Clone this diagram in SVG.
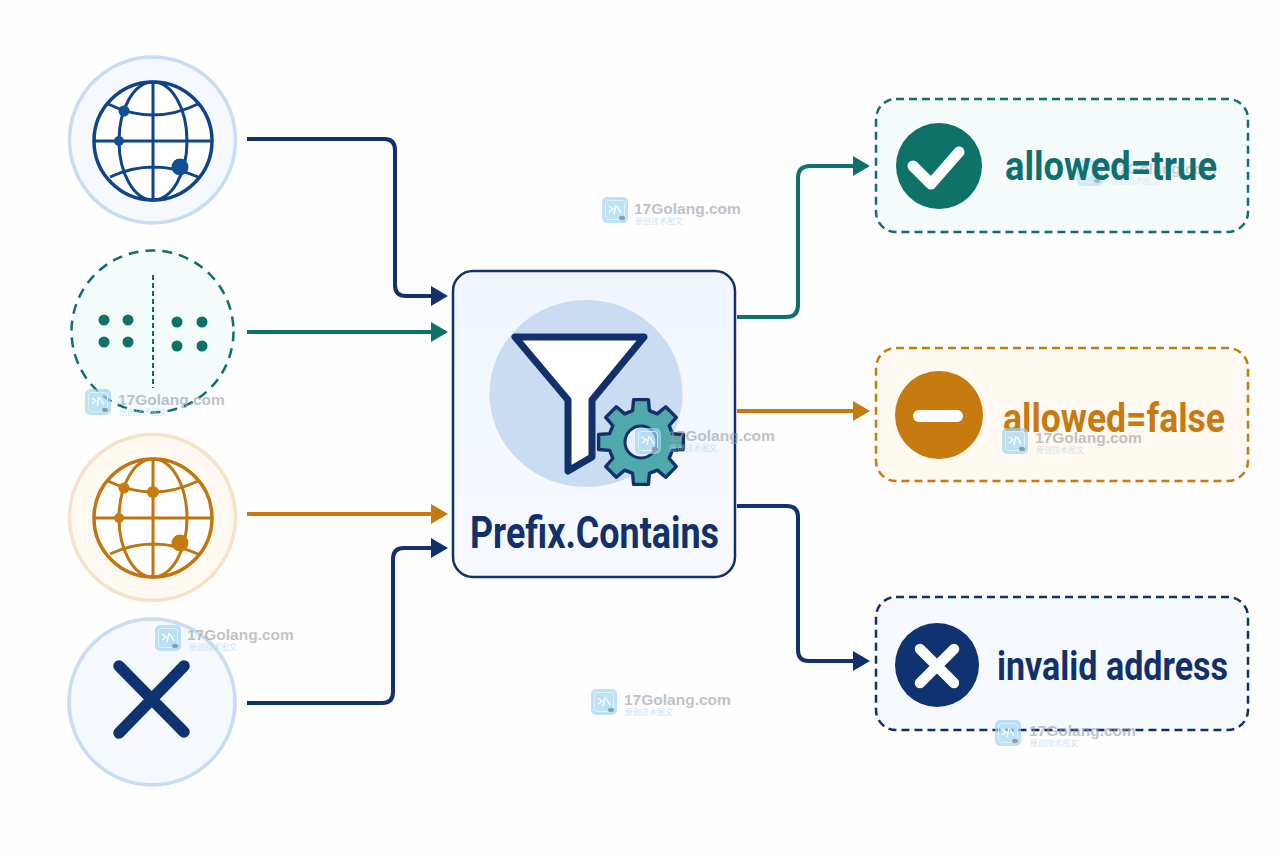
<svg xmlns="http://www.w3.org/2000/svg" width="1280" height="853" viewBox="0 0 1280 853">
<style>
.lbl{font-family:"Roboto","Liberation Sans",sans-serif;font-weight:700}
.wm{font-family:"Liberation Sans","Noto Sans",sans-serif;font-weight:700;font-size:15.5px;fill:#9a9fa6;opacity:.62}
.wms{font-family:"Noto Sans CJK SC","Liberation Sans",sans-serif;font-size:8px;fill:#bcd7ee;opacity:.7}
.conn{fill:none;stroke-width:4;stroke-linejoin:round}
.dash{stroke-width:2.5;stroke-dasharray:8 5}
.navy{stroke:#12306b}.teal{stroke:#0f7268}.org{stroke:#c77a10}
</style>
<defs>
<marker id="aN" markerUnits="userSpaceOnUse" markerWidth="18" markerHeight="22" refX="14" refY="11" orient="auto"><path d="M0 1L17 11L0 21Z" fill="#12306b"/></marker>
<marker id="aT" markerUnits="userSpaceOnUse" markerWidth="18" markerHeight="22" refX="14" refY="11" orient="auto"><path d="M0 1L17 11L0 21Z" fill="#0f7268"/></marker>
<marker id="aO" markerUnits="userSpaceOnUse" markerWidth="18" markerHeight="22" refX="14" refY="11" orient="auto"><path d="M0 1L17 11L0 21Z" fill="#c77a10"/></marker>
<linearGradient id="boxg" x1="0" y1="0" x2="0" y2="1"><stop offset="0" stop-color="#f1f6fe"/><stop offset="1" stop-color="#f6f9fe"/></linearGradient>
<g id="globe" fill="none" stroke="currentColor" stroke-width="3">
<circle r="59" fill="#fff" stroke-width="3.5"/>
<ellipse rx="34" ry="59"/>
<path d="M0-59V59M-59 0H59M-45-37Q0-15 45-37M-43 36Q0 16 45 36"/>
</g>
<g id="wmi">
<rect width="26" height="26" rx="5" fill="#9fd5ef" opacity=".7"/>
<rect x="3.500" y="3.500" width="19" height="19" rx="3" fill="none" stroke="#e6f5fb" stroke-width="1" opacity=".8"/>
<path d="M7 9L11 12L7 15M14 8L12 17M15 9L19 16" fill="none" stroke="#fff" stroke-width="1.300"/>
<rect x="17" y="19" width="6" height="4" rx="2" fill="#8f9aa3"/>
</g>
</defs>
<rect width="1280" height="853" fill="#fefefe"/>

<g id="connectors">
<path class="conn navy" marker-end="url(#aN)" d="M247 139H384Q395 139 395 150V285Q395 296 406 296H445"/>
<path class="conn teal" marker-end="url(#aT)" d="M247 332H445"/>
<path class="conn org" marker-end="url(#aO)" d="M247 514H445"/>
<path class="conn navy" marker-end="url(#aN)" d="M247 703H382Q393 703 393 692V559Q393 548 404 548H445"/>
<path class="conn teal" marker-end="url(#aT)" d="M737 317H786Q798 317 798 305V178Q798 166 810 166H867"/>
<path class="conn org" marker-end="url(#aO)" d="M737 411H867"/>
<path class="conn navy" marker-end="url(#aN)" d="M737 506H787Q798 506 798 517V650Q798 661 809 661H867"/>
</g>

<g id="node-ip-1">
<circle cx="152.500" cy="140" r="83" fill="#f5f9fe" stroke="#c9dcf2" stroke-width="3.500"/>
<use href="#globe" x="153" y="141" color="#0f4488"/>
<circle cx="124" cy="111" r="5.500" fill="#0f4f96"/>
<circle cx="119" cy="141" r="5" fill="#0f4f96"/>
<circle cx="180" cy="167" r="8.500" fill="#0f4f96"/>
</g>

<g id="node-cidr">
<circle cx="152.500" cy="331.500" r="81" fill="#f4fbfb" stroke="#0f6e6e" stroke-width="2.500" stroke-dasharray="10 7"/>
<path d="M153 275V388" stroke="#0f6e6e" stroke-width="2" stroke-dasharray="5 3" fill="none"/>
<g fill="#0f7268">
<circle cx="104" cy="320" r="5.500"/><circle cx="128" cy="320" r="5.500"/>
<circle cx="104" cy="342" r="5.500"/><circle cx="128" cy="342" r="5.500"/>
<circle cx="177" cy="322" r="5.500"/><circle cx="202" cy="322" r="5.500"/>
<circle cx="177" cy="346" r="5.500"/><circle cx="202" cy="346" r="5.500"/>
</g>
</g>

<g id="node-ip-2">
<circle cx="152.500" cy="517.500" r="83" fill="#fff9f1" stroke="#f6e2c8" stroke-width="3.500"/>
<use href="#globe" x="153" y="518" color="#c0760f"/>
<g fill="#c77a10">
<circle cx="124" cy="488" r="5.500"/><circle cx="153" cy="492" r="6"/>
<circle cx="119" cy="518" r="5"/><circle cx="180" cy="543" r="8.500"/>
</g>
</g>

<g id="node-invalid">
<circle cx="152" cy="702" r="83" fill="#f5f9fe" stroke="#c9dcf2" stroke-width="3.500"/>
<path d="M119 666L184 732M184 666L119 733" stroke="#0f3270" stroke-width="11.500" stroke-linecap="round" fill="none"/>
</g>

<g id="node-filter">
<rect x="453" y="271" width="282" height="306" rx="20" fill="url(#boxg)" stroke="#12306b" stroke-width="2.500"/>
<ellipse cx="586" cy="393.500" rx="96.500" ry="93.500" fill="#c9dcf2"/>
<path d="M515 337H644L592 400V457L568 471V400Z" fill="#fff" stroke="#12306b" stroke-width="7" stroke-linejoin="round"/>
<path transform="translate(641 442) scale(1.050)" fill="#4fa8aa" stroke="#12306b" stroke-width="3.200" stroke-linejoin="round" d="M-8-29.900L-7.100-40.400H7.100L8-29.900L15.500-26.800L23.500-33.600L33.600-23.500L26.800-15.500L29.900-8L40.400-7.100V7.100L29.900 8L26.800 15.500L33.600 23.500L23.500 33.600L15.500 26.800L8 29.900L7.100 40.400H-7.100L-8 29.900L-15.500 26.800L-23.500 33.600L-33.600 23.500L-26.800 15.500L-29.900 8L-40.400 7.100V-7.100L-29.900-8L-26.800-15.500L-33.600-23.500L-23.500-33.600L-15.500-26.800Z"/>
<circle cx="641" cy="442" r="16" fill="#e6f1fa" stroke="#12306b" stroke-width="3"/>
<text class="lbl" x="470" y="548" font-size="44" fill="#12306b" textLength="249" lengthAdjust="spacingAndGlyphs">Prefix.Contains</text>
</g>

<g id="node-allowed">
<rect x="876" y="99" width="372" height="133" rx="20" fill="#f5fbfb" stroke="#0f6e6e" class="dash"/>
<circle cx="939" cy="166" r="43" fill="#0f7268"/>
<path d="M913 166L931 184L959 152" fill="none" stroke="#fff" stroke-width="11" stroke-linecap="round" stroke-linejoin="round"/>
<g id="watermark-allowed" opacity=".7">
<use href="#wmi" x="1077" y="160"/><text class="wm" x="1110" y="174">17Golang.com</text><text class="wms" x="1111" y="184">原创技术图文</text>
</g>
<text class="lbl" x="1005" y="180" font-size="40" fill="#0f6e6e" textLength="212" lengthAdjust="spacingAndGlyphs">allowed=true</text>
</g>

<g id="node-denied">
<rect x="876" y="348" width="372" height="133" rx="20" fill="#fff9f1" stroke="#c77a10" class="dash"/>
<circle cx="939" cy="415" r="44" fill="#c77a10"/>
<rect x="913" y="410" width="50" height="12" rx="6" fill="#fff"/>
<text class="lbl" x="1003" y="432" font-size="40" fill="#c77a10" textLength="222" lengthAdjust="spacingAndGlyphs">allowed=false</text>
</g>

<g id="node-error">
<rect x="876" y="597" width="372" height="133" rx="20" fill="#f6f9fe" stroke="#12306b" class="dash"/>
<circle cx="937" cy="665" r="42" fill="#0f3270"/>
<path d="M920 649L954 683M954 649L920 683" fill="none" stroke="#fff" stroke-width="10.500" stroke-linecap="round"/>
<text class="lbl" x="997" y="680" font-size="40" fill="#12306b" textLength="231" lengthAdjust="spacingAndGlyphs">invalid address</text>
</g>

<g id="watermarks">
<use href="#wmi" x="602" y="197"/><text class="wm" x="634" y="214">17Golang.com</text><text class="wms" x="635" y="224">原创技术图文</text>
<use href="#wmi" x="85" y="389"/><text class="wm" x="118" y="405">17Golang.com</text><text class="wms" x="119" y="415">原创技术图文</text>
<use href="#wmi" x="635" y="428"/><text class="wm" x="668" y="441">17Golang.com</text><text class="wms" x="669" y="451">原创技术图文</text>
<use href="#wmi" x="1002" y="428"/><text class="wm" x="1035" y="443">17Golang.com</text><text class="wms" x="1036" y="453">原创技术图文</text>
<use href="#wmi" x="155" y="625"/><text class="wm" x="187" y="640">17Golang.com</text><text class="wms" x="189" y="650">原创技术图文</text>
<use href="#wmi" x="591" y="689"/><text class="wm" x="624" y="705">17Golang.com</text><text class="wms" x="625" y="715">原创技术图文</text>
<use href="#wmi" x="995" y="720"/><text class="wm" x="1029" y="736">17Golang.com</text><text class="wms" x="1030" y="746">原创技术图文</text>
</g>
</svg>
